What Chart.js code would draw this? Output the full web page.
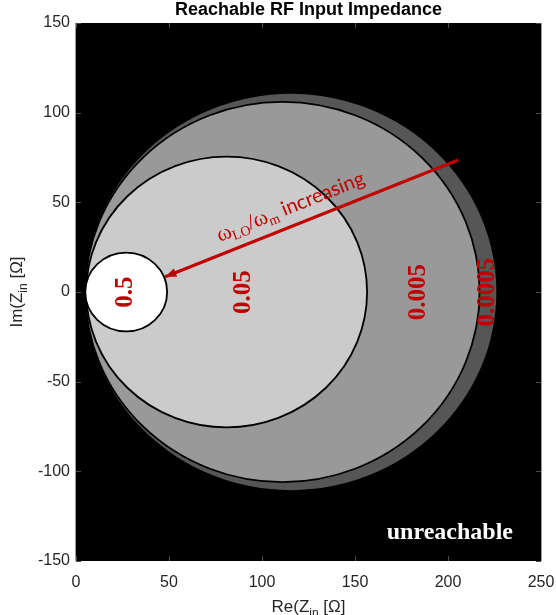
<!DOCTYPE html>
<html>
<head>
<meta charset="utf-8">
<title>Reachable RF Input Impedance</title>
<script src="https://cdn.jsdelivr.net/npm/chart.js@4"></script>
<style>
  html, body { margin: 0; padding: 0; background: #fff; }
  canvas { display: block; }
</style>
</head>
<body>
<canvas id="zin" width="556" height="615"></canvas>
<script>
// axis ticks
const reTicks = [0, 50, 100, 150, 200, 250];
const imTicks = [-150, -100, -50, 0, 50, 100, 150];

// reachable regions, outer to inner (wLO/wm ratio, circle centre + radius in ohm)
const ratioLabels = ["0.0005", "0.005", "0.05", "0.5"];
const centreRe = [115.5, 111, 81, 27];
const centreIm = [0, 0, 0, 0];
const radius = [110.5, 106, 75.5, 22];
const labelRe = [221.5, 184.2, 90, 26.6];
const labelIm = [0, 0, 0, 0];

// arrow (start, tip) and its caption
const arrowRe = [205.5, 48];
const arrowIm = [73.6, 8.5];
const captionRe = 116.6;
const captionIm = 44.2;

const unreachableRe = 201;
const unreachableIm = -133.3;

// styles
const regionFill = ["#565656", "#999999", "#cbcbcb", "#ffffff"];
const regionEdge = [null, "#000000", "#000000", "#000000"];
const red = "#c00000";
const sans = '"Liberation Sans", Arial, sans-serif';
const serif = '"Liberation Serif", "Times New Roman", serif';

Chart.defaults.font.family = sans;
Chart.defaults.color = "#262626";

// draw a row of text pieces (font / vertical shift) centred on x,y
function drawRuns(ctx, runs, x, y, angle) {
  let total = 0;
  runs.forEach((r) => {
    ctx.font = r.f;
    r.w = ctx.measureText(r.t).width;
    total += r.w;
  });
  ctx.save();
  ctx.translate(x, y);
  ctx.rotate(angle);
  ctx.textAlign = "left";
  ctx.textBaseline = "alphabetic";
  let cx = -total / 2;
  runs.forEach((r) => {
    ctx.font = r.f;
    ctx.fillText(r.t, cx, r.dy || 0);
    cx += r.w;
  });
  ctx.restore();
}

const regionsPlugin = {
  id: "regions",
  beforeDatasetsDraw(chart) {
    const ctx = chart.ctx;
    const a = chart.chartArea;
    const x = chart.scales.x;
    const y = chart.scales.y;
    ctx.save();
    ctx.fillStyle = "#000";
    ctx.fillRect(a.left, a.top, a.right - a.left, a.bottom - a.top);
    ctx.beginPath();
    ctx.rect(a.left, a.top, a.right - a.left, a.bottom - a.top);
    ctx.clip();
    for (let i = 0; i < radius.length; i++) {
      const cx = x.getPixelForValue(centreRe[i]);
      const cy = y.getPixelForValue(centreIm[i]);
      const rx = x.getPixelForValue(centreRe[i] + radius[i]) - cx;
      const ry = y.getPixelForValue(centreIm[i] - radius[i]) - cy;
      ctx.beginPath();
      ctx.ellipse(cx, cy, rx, ry, 0, 0, Math.PI * 2);
      ctx.fillStyle = regionFill[i];
      ctx.fill();
      if (regionEdge[i]) {
        ctx.lineWidth = 1.8;
        ctx.strokeStyle = regionEdge[i];
        ctx.stroke();
      }
    }
    ctx.restore();
  },
  afterDatasetsDraw(chart) {
    const ctx = chart.ctx;
    const a = chart.chartArea;
    const x = chart.scales.x;
    const y = chart.scales.y;
    ctx.save();

    // arrow head
    const x0 = x.getPixelForValue(arrowRe[0]), y0 = y.getPixelForValue(arrowIm[0]);
    const x1 = x.getPixelForValue(arrowRe[1]), y1 = y.getPixelForValue(arrowIm[1]);
    const ang = Math.atan2(y1 - y0, x1 - x0);
    ctx.fillStyle = red;
    ctx.beginPath();
    ctx.moveTo(x1, y1);
    ctx.lineTo(x1 - 11 * Math.cos(ang) + 4.5 * Math.sin(ang), y1 - 11 * Math.sin(ang) - 4.5 * Math.cos(ang));
    ctx.lineTo(x1 - 11 * Math.cos(ang) - 4.5 * Math.sin(ang), y1 - 11 * Math.sin(ang) + 4.5 * Math.cos(ang));
    ctx.closePath();
    ctx.fill();

    // ratio labels, rotated
    ctx.font = "bold 25px " + serif;
    ctx.textAlign = "center";
    ctx.textBaseline = "middle";
    ratioLabels.forEach((t, i) => {
      ctx.save();
      ctx.translate(x.getPixelForValue(labelRe[i]), y.getPixelForValue(labelIm[i]));
      ctx.rotate(-Math.PI / 2);
      ctx.fillText(t, 0, 0);
      ctx.restore();
    });

    // arrow caption
    drawRuns(ctx, [
      { t: "\u03c9", f: "22px " + serif },
      { t: "LO", f: "14px " + serif, dy: 4 },
      { t: "/", f: "22px " + serif },
      { t: "\u03c9", f: "22px " + serif },
      { t: "m", f: "14px " + serif, dy: 4 },
      { t: " increasing", f: "20px Lato, sans-serif" },
    ], x.getPixelForValue(captionRe), y.getPixelForValue(captionIm), ang + Math.PI);

    ctx.fillStyle = "#fff";
    ctx.font = "bold 24px " + serif;
    ctx.textAlign = "center";
    ctx.textBaseline = "alphabetic";
    ctx.fillText("unreachable", x.getPixelForValue(unreachableRe), y.getPixelForValue(unreachableIm) + 8);

    // matlab style inner ticks
    ctx.strokeStyle = "#4a4a4a";
    ctx.lineWidth = 1;
    ctx.beginPath();
    reTicks.forEach((v) => {
      const px = Math.round(x.getPixelForValue(v)) + 0.5;
      ctx.moveTo(px, a.bottom); ctx.lineTo(px, a.bottom - 5);
      ctx.moveTo(px, a.top); ctx.lineTo(px, a.top + 5);
    });
    imTicks.forEach((v) => {
      const py = Math.round(y.getPixelForValue(v)) + 0.5;
      ctx.moveTo(a.left, py); ctx.lineTo(a.left + 5, py);
      ctx.moveTo(a.right, py); ctx.lineTo(a.right - 5, py);
    });
    ctx.stroke();

    ctx.strokeStyle = "#9a9a9a";
    ctx.beginPath();
    ctx.moveTo(Math.round(a.left) - 0.5, a.top); ctx.lineTo(Math.round(a.left) - 0.5, a.bottom);
    ctx.moveTo(Math.round(a.right) + 0.5, a.top); ctx.lineTo(Math.round(a.right) + 0.5, a.bottom);
    ctx.stroke();
    ctx.restore();
  },
  afterDraw(chart) {
    const ctx = chart.ctx;
    const a = chart.chartArea;
    const mid = (a.left + a.right) / 2;
    ctx.save();
    ctx.fillStyle = "#000";
    ctx.font = "bold 18px " + sans;
    ctx.textAlign = "center";
    ctx.textBaseline = "alphabetic";
    ctx.fillText("Reachable RF Input Impedance", mid, 15);

    ctx.fillStyle = "#262626";
    const titleRuns = (lead) => [
      { t: lead + "(Z", f: "17px " + sans },
      { t: "in", f: "12px " + sans, dy: 5 },
      { t: " [\u03a9]", f: "17px " + sans },
    ];
    drawRuns(ctx, titleRuns("Re"), mid, 612, 0);
    drawRuns(ctx, titleRuns("Im"), 22, (a.top + a.bottom) / 2, -Math.PI / 2);
    ctx.restore();
  },
};

new Chart(document.getElementById("zin"), {
  type: "scatter",
  data: {
    datasets: [
      {
        label: "arrow",
        data: arrowRe.map((v, i) => ({ x: v, y: arrowIm[i] })),
        showLine: true,
        borderColor: red,
        borderWidth: 3,
        pointRadius: 0,
      },
    ],
  },
  options: {
    responsive: false,
    animation: false,
    devicePixelRatio: 1,
    layout: { padding: { top: 23, right: 15, left: 0, bottom: 0 } },
    scales: {
      x: {
        type: "linear",
        min: 0,
        max: 250,
        afterBuildTicks: (s) => { s.ticks = reTicks.map((v) => ({ value: v })); },
        afterFit: (s) => {
          s.height = 54;
          s.paddingLeft = 0;
          s.paddingRight = 0;
        },
        grid: { display: false, drawTicks: false },
        border: { display: false },
        ticks: { font: { size: 16 }, padding: 12, maxRotation: 0 },
      },
      y: {
        type: "linear",
        min: -150,
        max: 150,
        afterBuildTicks: (s) => { s.ticks = imTicks.map((v) => ({ value: v })); },
        afterFit: (s) => {
          s.width = 76;
          s.paddingTop = 0;
          s.paddingBottom = 0;
        },
        grid: { display: false, drawTicks: false },
        border: { display: false },
        ticks: { font: { size: 16 }, padding: 6 },
      },
    },
    plugins: {
      legend: { display: false },
      tooltip: { enabled: false },
    },
  },
  plugins: [regionsPlugin],
});
</script>
</body>
</html>
